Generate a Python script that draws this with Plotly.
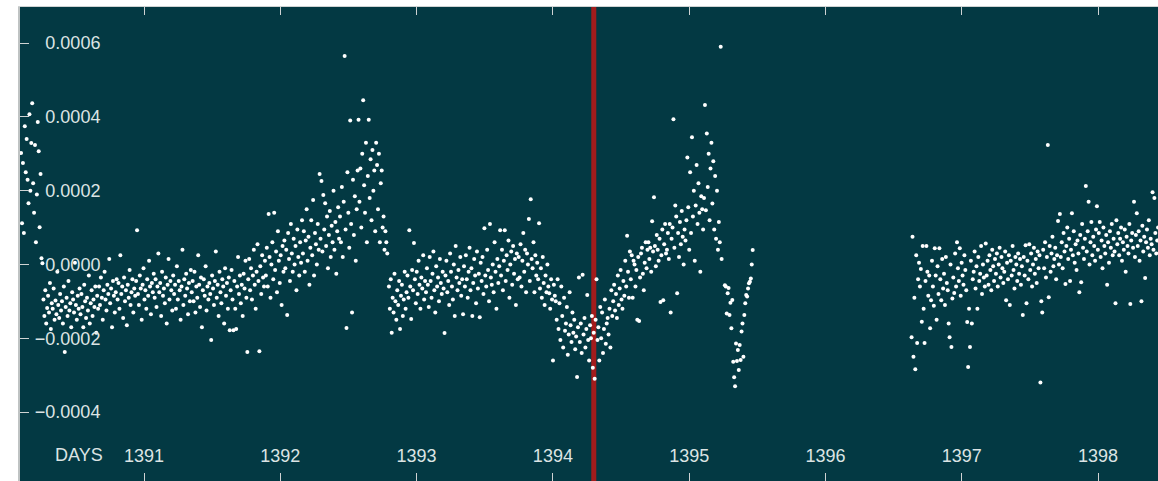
import numpy as np
import plotly.graph_objects as go

# ---------------- data (flux deviation in ppm, one value per cadence) ----------------
CADENCE_DAYS = 0.0068
EVENT_TIME = 1394.30

SEG_A_START = 1390.098
SEG_A_PPM = [302, 112, 275, 85, 375, 250, 340, 230, 166, 407, 200, 329, 437, 220, 140, 324,
             60, 190, 386, 307, 101, 245, 17, 3]

SEG_B_START = 1390.262
SEG_B_PPM = [
    -95, -140, -70, -160, -118, -85, -130, -50, -175, -105, -120, -65, -150, -98, -135, -20, -110, -145, -80, -125,
    -100, -160, -60, -237, -115, -90, -140, -45, -125, -105, -170, -75, -95, -130, 5, -110, -150, -85, -120, -65,
    -135, -80, -115, -170, -55, -100, -145, -90, -125, -30, -160, -105, -70, -140, -95, -115, -60, -185, -85, -120,
    -60, -110, -35, -90, -150, -70, -20, -95, -125, -55, -80, 15, -105, -65, -170, -45, -85, -130, -75, -40,
    -95, -50, -120, 25, -80, -60, -145, -35, -100, -70, -165, -55, -90, -15, -110, -75, -40, -130, -65, -85,
    -45, 93, -80, -110, -30, -65, -150, -55, -10, -95, -70, -120, -40, -85, 10, -60, -135, -50, -75, -25,
    -90, -40, -115, -60, 30, -75, -50, -140, -20, -85, -65, -105, -35, -160, -55, 15, -95, -45, -70, -125,
    -30, -80, -55, -120, -5, -95, -45, -70, -150, -60, 40, -110, -40, -85, -25, -65, -135, -50, -100, -15,
    -75, -45, -100, -20, -130, -60, -90, 25, -55, -115, -35, -170, -70, -40, -85, -5, -125, -60, -95, -50,
    -80, -205, -30, -65, -110, -45, 35, -90, -55, -140, -20, -75, -105, -40, -60, -160, -10, -85, -50, -120,
    -35, -178, -70, -15, -95, -178, -45, -120, -175, -60, 20, -80, -30, -105, -55, -140, -25, -65, 10, -90,
    -237, -40, 15, -70, -10, -95, -30, 40, -55, -120, -20, 55, -45, -235, -5, -80, 25, -35, -60, 10,
    -30, 45, -60, 137, 20, -90, 0, 60, -40, 140, -15, 35, -75, 90, 10, -50, 25, -110, 50, -20,
    65, -10, 40, -137, 85, 15, -45, 110, 30, -20, 70, 0, 50, -70, 95, 20, -30, 60, 5, 120,
    30, 90, -20, 65, 150, 10, 75, -55, 45, 120, 25, 175, -30, 85, 55, 0, 110, 40, 245, 70,
    226, 35, 188, 95, 166, 50, 130, -10, 80, 145, 20, 105, 60, 200, 40, 115, -25, 90, 155, 70,
    130, 60, 210, 20, 170, 565, 95, -172, 250, 140, 45, 390, 110, -130, 230, 80, 185, 10, 150, 255,
    392, 170, 260, 100, 300, 445, 215, 140, 330, 60, 240, 392, 180, 285, 120, 310, 200, 255, 90, 330,
    270, 150, 300, 60, 220, 255, 100, 130, 40, 90, 60, 30,
]

SEG_C_START = 1392.797
SEG_C_PPM = [
    -60, -120, -40, -185, -90, -130, -25, -100, -150, -70, -110, -45, -175, -85, -55, -140, -95, -20, -120, -75,
    -30, -90, 93, -60, -148, -15, -70, 58, -40, -105, -20, -80, 10, -55, -120, -35, -65, 25, -95, -45,
    -75, -10, -55, -115, 20, -45, -90, -25, 35, -70, -130, -5, -60, -35, -100, 15, -50, -80, -20, -65,
    -186, -30, 10, -75, -45, -110, 30, -20, -60, -95, 0, -140, 50, -35, -70, -15, -50, 20, -85, -40,
    -135, -5, -60, 25, -40, -90, -20, 45, -70, -10, -140, -50, 15, -30, -105, 35, -65, -25, -143, 5,
    -45, 20, -80, 98, -30, -60, 40, -15, -100, 110, -35, -55, 0, -75, 60, -20, -120, 15, -50, -5,
    93, -30, 40, -70, 10, 93, -45, 25, -15, 65, -90, 0, 35, -55, 50, -25, 15, -110, 30, -40,
    20, -35, 55, -60, 10, 85, -20, 40, -75, 30, 0, 123, -45, 177, 15, -10, 60, -75, 25, -30,
    5, -40, 112, -65, -10, -90, 20, -50, -110, -30, -75, 0, -60, -78, -120, -40, -95, -260, -55, -85,
    -100, -150, -40, -175, -105, -205, -60, -140, -225, -90, -180, -160, -115, -245, -190, -75, -165, -210, -130, -185,
    -150, -230, -195, -305, -170, -35, -210, -160, -240, -28, -190, -145, -225, -175, -83, -205, -260, -165, -200, -140,
    -280, -185, -310, -150, -40, -205, -170, -260, -115, -200, -130, -240, -175, -95, -215, -160, -145, -190, -120, -225,
    -70, -140, -100, -55, -125, -80, -145, -30, -110, -65, -15, -95, -120, -45, -85, 10, -60, 78, -20, -90,
    35, -40, 25, -90, 10, 0, -60, -15, -150, 20, -153, -35, 30, 45, -25, -70, 5, 60, -10, 40,
    60, 15, 45, -20, 117, 35, 182, 50, -5, 80, 40, 10, 70, -102, 25, 95, -97, 55, 110, 30,
    40, 85, 15, 110, -130, 70, 100, 394, 45, 160, 130, -78, 85, 20, 115, 55, 145, 75, 0, 95,
    65, 120, 290, 155, 40, 250, 85, 345, 130, 200, 10, 160, 270, 110, 220, 140, -20, 185, 150, 95,
    180, 432, 147, 355, 210, 300, 120, 260, 330, 165, 280, 95, 240, 70, 200, 40, 115, 60, 590, 15,
]

SEG_C2_START = 1395.262
SEG_C2_PPM = [-56, -60, -133, -78, -64, -137, -104, -173, -96, -264, -306, -330, -214, -262, -232, -286,
              -218, -259, -182, -160, -250, -137, -105, -83, -87, -65, -51, -47, -38, 0, 39]

SEG_D_START = 1396.632
SEG_D_PPM = [
    -197, 75, -250, -90, -284, 25, -213, -40, 5, -60, -12, -155, 50, -120, -213, -45, 50, -20, -85, -30,
    -173, -97, 10, -60, -112, 44, -30, -150, -5, -80, 44, -40, -97, 15, -65, -25, -110, 20, -50, -70,
    -160, -197, 0, -224, -92, -35, -77, 30, -60, 60, -10, -45, 44, -85, 5, -30, -55, 25, -15, -70,
    -156, -278, -120, -224, 10, -160, -40, -20, 35, -65, -5, -120, 20, -45, -25, 50, -80, 0, -35, -60,
    57, -30, 10, -55, 25, -15, -70, 40, -5, -45, 15, -25, 30, -60, 0, 45, -35, 20, -10, -50,
    -20, 35, -97, 5, -40, 25, -110, 10, -30, 50, -15, -65, 20, 0, -45, 30, -25, 15, -55, -5,
    -137, 20, -30, 52, -105, 10, -40, 55, -15, 30, -60, 0, 45, -25, 15, -50, 35, -10, 25, -320,
    -100, -130, 40, -10, 60, -35, 20, 324, -89, 50, -20, 30, 75, -5, 15, 45, -40, 25, 118, 0,
    137, 20, 60, -10, 85, 35, -53, 50, 100, 15, 70, -45, 40, 139, 25, 90, 5, 55, -15, 65,
    30, -75, 80, -48, 110, 45, 15, 70, 213, 35, 90, 170, 0, 60, 115, 25, 75, 50, 10, 95,
    158, 40, 85, 115, 20, 65, -10, 100, 50, 30, 80, -55, 60, 5, 90, 45, 110, 25, 70, 35,
    -105, 120, 55, 85, 25, 70, 100, 10, 60, 40, 95, -20, 75, 50, 30, 110, -107, 65, 85, 45,
    170, 20, 80, 139, 50, 90, 10, 65, -100, 105, 35, 75, -37, 60, 95, 45, 120, 25, 70, 55,
    196, 40, 180, 85, 30, 65, 100,
]

X_TICKS = [1391, 1392, 1393, 1394, 1395, 1396, 1397, 1398]
Y_TICKS = [-0.0004, -0.0002, 0.0, 0.0002, 0.0004, 0.0006]
X_TITLE = "DAYS"

# ---------------- assemble ----------------
segments = [(SEG_A_START, SEG_A_PPM), (SEG_B_START, SEG_B_PPM), (SEG_C_START, SEG_C_PPM),
            (SEG_C2_START, SEG_C2_PPM), (SEG_D_START, SEG_D_PPM)]
times, flux = [], []
for start, vals in segments:
    times.append(start + CADENCE_DAYS * np.arange(len(vals)))
    flux.append(np.array(vals, dtype=float) * 1e-6)
times = np.concatenate(times)
flux = np.concatenate(flux)

BG = "#033943"
FONT = "Liberation Sans, Arial, sans-serif"
FONT_SIZE = 18
LABEL_COLOR = "#dce4e4"
TICK_COLOR = "#cfd3d3"

fig = go.Figure()
fig.add_trace(go.Scatter(x=times, y=flux, mode="markers",
                         marker=dict(color="white", size=4, line=dict(width=0)),
                         hoverinfo="skip", showlegend=False))

fig.add_vline(x=EVENT_TIME, line=dict(color="#a31c1c", width=5), layer="below")

fig.add_annotation(text=X_TITLE, xref="paper", yref="paper", x=0.0290, y=26 / 474,
                   xanchor="left", yanchor="middle", showarrow=False,
                   font=dict(family=FONT, size=FONT_SIZE, color=LABEL_COLOR))

fig.update_layout(
    width=1158, height=481,
    margin=dict(l=20, r=0, t=7, b=0, pad=0),
    paper_bgcolor="white", plot_bgcolor=BG,
    font=dict(family=FONT, size=FONT_SIZE, color=LABEL_COLOR),
    showlegend=False,
)
fig.update_xaxes(range=[1390.090, 1398.440], tickvals=X_TICKS, ticktext=[str(t) for t in X_TICKS],
                 ticks="inside", ticklen=8, tickwidth=1, tickcolor=TICK_COLOR,
                 ticklabelposition="inside", ticklabelstandoff=8,
                 tickfont=dict(family=FONT, size=FONT_SIZE, color=LABEL_COLOR),
                 showgrid=False, zeroline=False, showline=True, linecolor=TICK_COLOR, linewidth=1,
                 mirror="ticks", automargin=False)
fig.update_yaxes(range=[-0.000587, 0.000698], tickvals=Y_TICKS, tickformat=".4f",
                 ticks="inside", ticklen=9, tickwidth=1, tickcolor=TICK_COLOR,
                 ticklabelposition="outside", ticklabelstandoff=-86,
                 tickfont=dict(family=FONT, size=FONT_SIZE, color=LABEL_COLOR),
                 showgrid=False, zeroline=False, showline=True, linecolor="#bfc3c3", linewidth=2,
                 automargin=False)

fig.write_html("out.html")
